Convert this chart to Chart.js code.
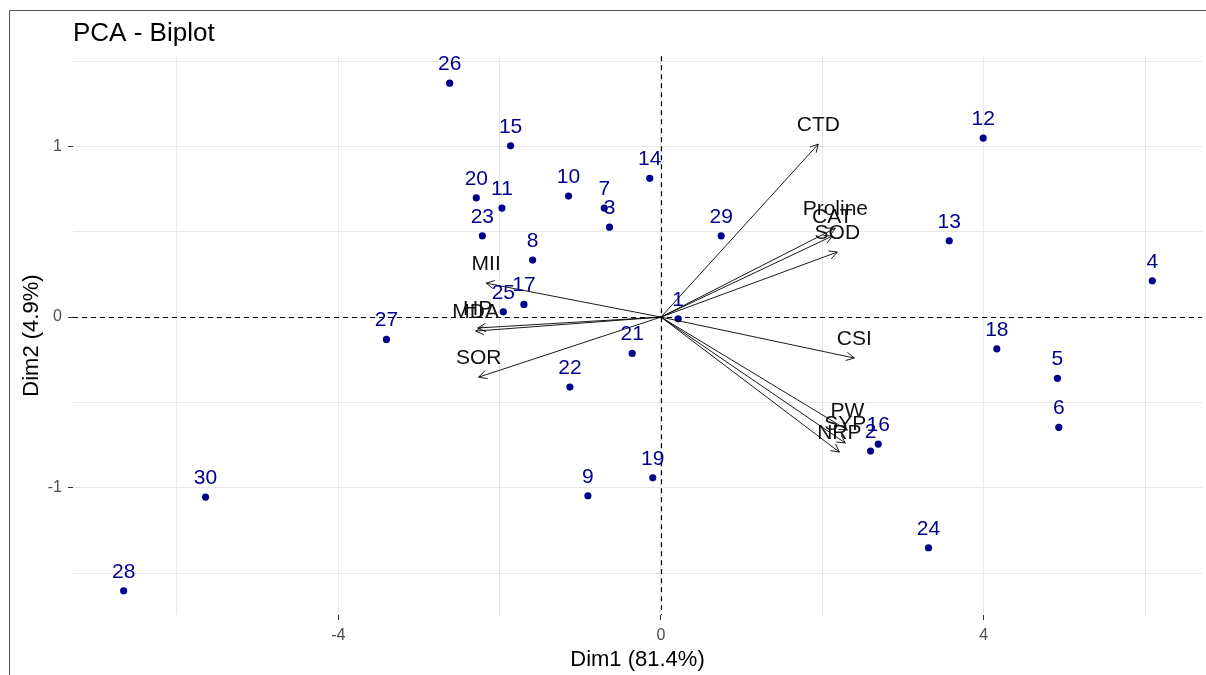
<!DOCTYPE html>
<html>
<head>
<meta charset="utf-8">
<script src="https://cdn.jsdelivr.net/npm/chart.js@4.4.1/dist/chart.umd.min.js"></script>
<style>
html,body{margin:0;padding:0;background:#fff;}
#wrap{position:relative;width:1206px;height:675px;overflow:hidden;}
canvas{position:absolute;left:0;top:0;}
#frame{position:absolute;left:9px;top:10px;right:-2px;bottom:-2px;border-left:1px solid #555;border-top:1px solid #555;pointer-events:none;}
</style>
</head>
<body>
<div id="wrap"><canvas id="c" width="1206" height="675"></canvas><div id="frame"></div></div>
<script>
// ---- data ----
const obsLabels = ['1','2','3','4','5','6','7','8','9','10','11','12','13','14','15','16','17','18','19','20','21','22','23','24','25','26','27','28','29','30'];
const obsDim1 = [0.213, 2.598, -0.638, 6.090, 4.914, 4.931, -0.703, -1.591, -0.906, -1.146, -1.971, 3.994, 3.573, -0.139, -1.864, 2.693, -1.699, 4.163, -0.102, -2.289, -0.357, -1.129, -2.214, 3.316, -1.954, -2.619, -3.403, -6.660, 0.746, -5.645];
const obsDim2 = [-0.010, -0.785, 0.527, 0.213, -0.359, -0.646, 0.639, 0.334, -1.047, 0.709, 0.639, 1.049, 0.447, 0.813, 1.004, -0.744, 0.074, -0.186, -0.942, 0.699, -0.213, -0.410, 0.476, -1.352, 0.031, 1.371, -0.131, -1.604, 0.476, -1.055];

const varNames = ['CTD','Proline','CAT','SOD','CSI','PW','SYP','NRP','MII','HP','MDA','SOR'];
const varDim1 = [1.950, 2.161, 2.124, 2.186, 2.396, 2.310, 2.285, 2.211, -2.167, -2.272, -2.297, -2.260];
const varDim2 = [1.014, 0.521, 0.475, 0.381, -0.240, -0.662, -0.738, -0.791, 0.199, -0.064, -0.082, -0.352];

const xRange = [-7.288, 6.706];
const yRange = [-1.746, 1.529];
const xTickValues = [-4, 0, 4];
const yTickValues = [-1, 0, 1];

const chartTitle = 'PCA - Biplot';
const xTitle = 'Dim1 (81.4%)';
const yTitle = 'Dim2 (4.9%)';

// ---- styling ----
const FONT = "'Liberation Sans', Arial, Helvetica, sans-serif";
const POINT_COL = '#00008B';

const datasets = [];
varNames.forEach((n, i) => {
  datasets.push({
    type: 'line', label: n,
    data: [{x: 0, y: 0}, {x: varDim1[i], y: varDim2[i]}],
    borderColor: '#000', borderWidth: 0.9, pointRadius: 0, fill: false, order: 1
  });
});
datasets.push({
  type: 'scatter', label: 'individuals',
  data: obsDim1.map((v, i) => ({x: v, y: obsDim2[i]})),
  backgroundColor: POINT_COL, borderColor: POINT_COL, borderWidth: 0, pointRadius: 3.6, order: 2
});

const annot = {
  id: 'annot',
  beforeDatasetsDraw(chart) {
    const {ctx, chartArea: a, scales: {x, y}} = chart;
    const x0 = Math.round(x.getPixelForValue(0)) + 0.5, y0 = Math.round(y.getPixelForValue(0)) + 0.5;
    ctx.save();
    ctx.strokeStyle = '#000';
    ctx.lineWidth = 1.2;
    ctx.setLineDash([5, 4]);
    ctx.beginPath();
    ctx.moveTo(a.left, y0); ctx.lineTo(a.right, y0);
    ctx.moveTo(x0, a.top); ctx.lineTo(x0, a.bottom);
    ctx.stroke();
    ctx.restore();
  },
  afterDatasetsDraw(chart) {
    const {ctx, scales: {x, y}} = chart;
    ctx.save();
    ctx.font = '21px ' + FONT;
    ctx.textAlign = 'center';
    ctx.textBaseline = 'middle';
    // individual labels
    ctx.fillStyle = POINT_COL;
    obsLabels.forEach((l, i) => {
      ctx.fillText(l, x.getPixelForValue(obsDim1[i]), y.getPixelForValue(obsDim2[i]) - 19);
    });
    // arrowheads
    const ox = x.getPixelForValue(0), oy = y.getPixelForValue(0);
    ctx.strokeStyle = '#000';
    ctx.lineWidth = 0.9;
    varNames.forEach((n, i) => {
      const tx = x.getPixelForValue(varDim1[i]), ty = y.getPixelForValue(varDim2[i]);
      const ang = Math.atan2(ty - oy, tx - ox);
      const L = 9, A = Math.PI / 6.5;
      ctx.beginPath();
      ctx.moveTo(tx - L * Math.cos(ang - A), ty - L * Math.sin(ang - A));
      ctx.lineTo(tx, ty);
      ctx.lineTo(tx - L * Math.cos(ang + A), ty - L * Math.sin(ang + A));
      ctx.stroke();
    });
    // variable labels
    ctx.fillStyle = '#111';
    varNames.forEach((n, i) => {
      ctx.fillText(n, x.getPixelForValue(varDim1[i]), y.getPixelForValue(varDim2[i]) - 19);
    });
    ctx.restore();
  }
};

new Chart(document.getElementById('c'), {
  type: 'scatter',
  data: {datasets},
  plugins: [annot],
  options: {
    responsive: false,
    animation: false,
    devicePixelRatio: 1,
    layout: {padding: {left: 0, right: 3, top: 0, bottom: 0}},
    plugins: {
      legend: {display: false},
      tooltip: {enabled: false},
      title: {
        display: true, text: chartTitle, align: 'start', fullSize: false,
        color: '#000', font: {family: FONT, size: 26, weight: 'normal', lineHeight: 1.2},
        padding: {top: 18, bottom: 7}
      }
    },
    scales: {
      x: {
        type: 'linear', position: 'bottom', min: xRange[0], max: xRange[1],
        afterFit(s) { s.height = 60; },
        border: {display: false},
        grid: {
          color: '#e8e8e8', lineWidth: 1, tickLength: 5,
          tickColor: (c) => (c.tick && xTickValues.includes(c.tick.value)) ? '#333' : 'rgba(0,0,0,0)'
        },
        ticks: {
          stepSize: 2, includeBounds: false, autoSkip: false, maxRotation: 0, padding: 6,
          color: '#4d4d4d', font: {family: FONT, size: 16},
          callback: (v) => xTickValues.includes(v) ? String(v) : ''
        },
        title: {display: true, text: xTitle, color: '#000', font: {family: FONT, size: 22, lineHeight: 1.2}, padding: {top: 0, bottom: 2}}
      },
      y: {
        type: 'linear', position: 'left', min: yRange[0], max: yRange[1],
        afterFit(s) { s.width = 73; },
        border: {display: false},
        grid: {
          color: '#e8e8e8', lineWidth: 1, tickLength: 5,
          tickColor: (c) => (c.tick && yTickValues.includes(c.tick.value)) ? '#333' : 'rgba(0,0,0,0)'
        },
        ticks: {
          stepSize: 0.5, includeBounds: false, autoSkip: false, padding: 6,
          color: '#4d4d4d', font: {family: FONT, size: 16},
          callback: (v) => yTickValues.includes(v) ? String(v) : ''
        },
        title: {display: true, text: yTitle, color: '#000', font: {family: FONT, size: 22, lineHeight: 1.2}, padding: {top: 19, bottom: 0}}
      }
    }
  }
});
</script>
</body>
</html>
